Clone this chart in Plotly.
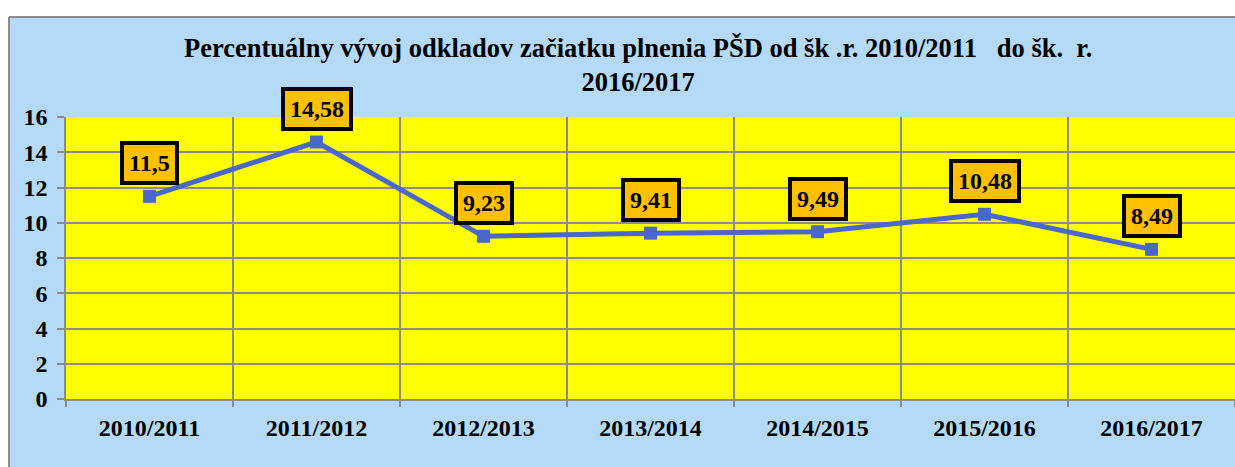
import plotly.graph_objects as go

categories = ["2010/2011", "2011/2012", "2012/2013", "2013/2014", "2014/2015", "2015/2016", "2016/2017"]
values = [11.5, 14.58, 9.23, 9.41, 9.49, 10.48, 8.49]
value_labels = ["11,5", "14,58", "9,23", "9,41", "9,49", "10,48", "8,49"]
y_ticks = [0, 2, 4, 6, 8, 10, 12, 14, 16]

title_text = ("Percentuálny vývoj odkladov začiatku plnenia PŠD od šk .r. 2010/2011\u00a0\u00a0\u00a0do šk.\u00a0\u00a0r."
              "<br>2016/2017")

FONT = "Liberation Serif"
W, H = 1235, 467
ML, MR, MT, MB = 66, 0, 117, 68
pw = W - ML - MR
ph = H - MT - MB

def px_x(x):
    return (x - ML) / pw

def px_y(y):
    return (H - MB - y) / ph

fig = go.Figure()
fig.add_trace(go.Scatter(
    x=categories, y=values, mode="lines+markers",
    line=dict(color="#4A67CC", width=5),
    marker=dict(symbol="square", size=13, color="#4A67CC"),
    hoverinfo="skip", showlegend=False,
))

for c, v, t in zip(categories, values, value_labels):
    fig.add_annotation(
        x=c, y=v, xref="x", yref="y", text=t,
        showarrow=False, yshift=33, yanchor="middle",
        font=dict(family=FONT, size=24, color="black", weight=700),
        bgcolor="#FFC000", bordercolor="black", borderwidth=4, borderpad=5,
    )

fig.add_annotation(
    x=px_x(638), y=px_y(65), xref="paper", yref="paper", text=title_text,
    showarrow=False, xanchor="center", yanchor="middle",
    font=dict(family=FONT, size=26.5, color="black", weight=700),
)

# white strips outside the chart frame and the frame border
fig.add_shape(type="rect", xref="paper", yref="paper", x0=-0.2, x1=1.2,
              y0=px_y(17), y1=px_y(-50), fillcolor="white", line=dict(width=0), layer="below")
fig.add_shape(type="rect", xref="paper", yref="paper", x0=px_x(-50), x1=px_x(9),
              y0=px_y(600), y1=px_y(-50), fillcolor="white", line=dict(width=0), layer="below")
fig.add_shape(type="line", xref="paper", yref="paper", x0=px_x(9), x1=1.2,
              y0=px_y(17), y1=px_y(17), line=dict(color="#8C8C8C", width=2), layer="below")
fig.add_shape(type="line", xref="paper", yref="paper", x0=px_x(9), x1=px_x(9),
              y0=px_y(17), y1=px_y(600), line=dict(color="#8C8C8C", width=2), layer="below")

fig.update_layout(
    width=W, height=H,
    margin=dict(l=ML, r=MR, t=MT, b=MB),
    paper_bgcolor="#B4DAF7",
    plot_bgcolor="#FFFF00",
    font=dict(family=FONT, color="black"),
)
fig.update_xaxes(
    type="category", range=[-0.5, 6.5], tickson="boundaries",
    showgrid=True, gridcolor="#8C8C8C", gridwidth=1.5,
    ticks="outside", ticklen=6, tickcolor="#8C8C8C", tickwidth=1.5,
    showline=True, linecolor="#8C8C8C", linewidth=1.5,
    tickfont=dict(family=FONT, size=24, weight=700), ticklabelstandoff=6,
    fixedrange=True,
)
fig.update_yaxes(
    range=[0, 16], tickvals=y_ticks, showgrid=True, gridcolor="#8C8C8C", gridwidth=1.5,
    ticks="outside", ticklen=7, tickcolor="#8C8C8C", tickwidth=1.5,
    showline=True, linecolor="#8C8C8C", linewidth=1.5, zeroline=False,
    tickfont=dict(family=FONT, size=24, weight=700), ticklabelstandoff=5,
    fixedrange=True,
)

fig.write_html(
    "out.html",
    config=dict(displayModeBar=False),
    post_script="document.body.style.margin='0';document.body.style.overflow='hidden';",
)
